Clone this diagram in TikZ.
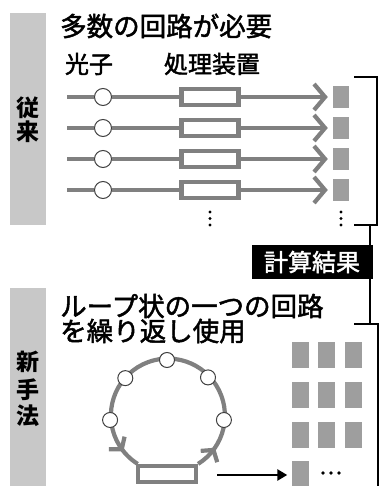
\documentclass[tikz,border=0pt]{standalone}
\usepackage{fontspec}
\setmainfont{Noto Sans CJK JP}
\newfontfamily\medjp[FakeBold=1.8]{Noto Sans CJK JP}
\usetikzlibrary{arrows.meta,decorations.markings}
\definecolor{barg}{HTML}{C8C8C8}
\definecolor{lineg}{HTML}{808080}
\definecolor{sqg}{HTML}{9E9E9E}
\begin{document}
\begin{tikzpicture}[x=1pt,y=-1pt,
  flow/.style={draw=lineg,line width=4.2pt},
  photon/.style={circle,draw=black!75,line width=1pt,fill=white,minimum size=17pt,inner sep=0pt},
  lphoton/.style={photon,minimum size=15pt},
  proc/.style={rectangle,draw=lineg,line width=4.2pt,fill=white,minimum width=57pt,minimum height=16pt,inner sep=0pt},
  res/.style={rectangle,fill=sqg,minimum width=16pt,minimum height=22pt,inner sep=0pt},
  resb/.style={res,minimum width=17pt,minimum height=26pt},
  big/.style={font=\medjp\fontsize{26.5}{28}\selectfont,inner sep=0pt,anchor=west},
  mid/.style={font=\medjp\fontsize{24}{26}\selectfont,inner sep=0pt},
  side/.style={font=\fontsize{23}{24}\selectfont\bfseries,inner sep=0pt},
  bra/.style={draw=black,line width=1.5pt},
  chev/.style={-{Straight Barb[length=11pt,width=26pt]}},
  dot/.style={circle,fill=black,inner sep=0pt,minimum size=3.4pt}
]
\path[use as bounding box] (0,0) rectangle (379,486);
% side bars
\fill[barg] (10,13) rectangle (46,225);
\fill[barg] (10,288) rectangle (46,486);
\node[side] (s1) at (28,108) {従};
\node[side] (s2) at (28,132) {来};
\node[side] (s3) at (28,362) {新};
\node[side] (s4) at (28,390) {手};
\node[side] (s5) at (28,416) {法};
% titles
\node[big] (t1) at (60,26) {多数の回路が必要};
\node[mid] (t2) at (89,64) {光子};
\node[mid] (t3) at (212,64) {処理装置};
% rows
\foreach \i/\y in {1/97,2/128,3/159,4/190}{
  \coordinate (a\i) at (67,\y);
  \node[photon] (c\i) at (103,\y) {};
  \node[proc] (p\i) at (210,\y) {};
  \node[res] (r\i) at (341,\y) {};
  \draw[flow] (a\i) -- (c\i);
  \draw[flow] (c\i) -- (p\i);
  \draw[flow,chev,shorten >=5pt] (p\i) -- (r\i);
}
\foreach \x in {210,341}{
  \foreach \y in {212,218.5,225}{
    \node[dot] at (\x,\y) {};
  }
}
% result label and brackets
\node[fill=black,text=white,mid,minimum width=121pt,minimum height=34pt] (k) at (312,262) {計算結果};
\coordinate (bx) at (370,0);
\draw[bra] (354,77) -- (377,77) -- (377,225) -- (354,225);
\draw[bra] (370,225) -- (k.north -| bx);
\draw[bra] (k.south -| bx) -- (370,324);
\draw[bra] (354,324) -- (378,324) -- (378,486);
% new method
\node[big] (t4) at (60,306) {ループ状の一つの回路};
\node[big] (t5) at (60,331) {を繰り返し使用};
\coordinate (lc) at (167,417);
\node[proc,minimum width=58pt,minimum height=16pt] (lb) at (167,474) {};
\draw[flow,decoration={markings,
   mark=at position 0.08 with {\arrow{Straight Barb[length=8pt,width=20pt]}},
   mark=at position 0.935 with {\arrow{Straight Barb[length=8pt,width=20pt]}}},postaction={decorate}]
  (lb.north east) arc[start angle=58,end angle=-238,radius=57];
\foreach \n/\a in {1/177,2/223,3/270,4/316,5/3}{
  \node[lphoton] (l\n) at ([shift={(\a:57)}]lc) {};
}
% result grid
\foreach \r/\y in {1/355,2/395,3/435}{
  \foreach \c/\x in {1/300,2/326.5,3/353.5}{
    \node[resb] (g\r\c) at (\x,\y) {};
  }
}
\node[resb] (g41) at (300,474) {};
\foreach \x in {323,331,339}{
  \node[dot,minimum size=3.8pt] at (\x,473) {};
}
\coordinate (ar) at (217,475);
\draw[line width=2.8pt,-{Triangle[length=10pt,width=11pt]},shorten >=4pt] (ar) -- (g41.west |- ar);
\end{tikzpicture}
\end{document}
